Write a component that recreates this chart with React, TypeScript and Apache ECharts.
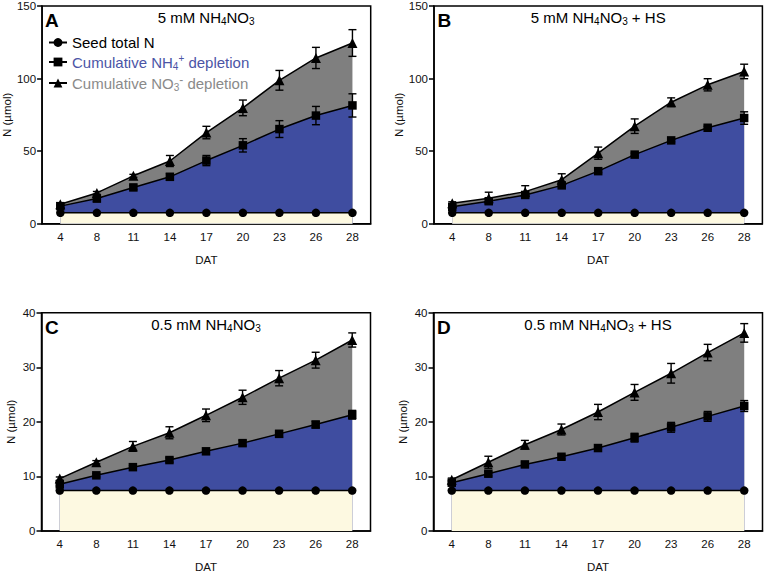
import React, { useEffect, useRef } from 'react';
import * as echarts from 'echarts';

// ---------- data ----------
const categories = ['4', '8', '11', '14', '17', '20', '23', '26', '28'];

const seedA = [7.5, 7.5, 7.5, 7.5, 7.5, 7.5, 7.5, 7.5, 7.5];
const nh4A = [12.1, 17.3, 25.0, 32.3, 43.5, 54.0, 65.2, 74.5, 81.5];
const nh4AErr = [1.0, 2.0, 1.5, 2.2, 3.5, 4.6, 5.8, 6.3, 8.0];
const no3A = [13.4, 21.2, 33.0, 43.2, 62.8, 79.8, 98.8, 114.2, 124.5];
const no3AErr = [1.0, 1.0, 1.0, 3.8, 4.3, 5.4, 6.8, 7.3, 9.2];

const seedB = [7.5, 7.5, 7.5, 7.5, 7.5, 7.5, 7.5, 7.5, 7.5];
const nh4B = [11.6, 15.5, 19.8, 26.4, 36.2, 47.6, 57.4, 66.1, 72.8];
const nh4BErr = [1.0, 1.0, 1.0, 1.0, 1.0, 1.0, 1.0, 1.0, 4.3];
const no3B = [14.1, 17.6, 22.1, 30.3, 48.6, 67.2, 83.7, 95.7, 104.9];
const no3BErr = [1.0, 4.1, 4.1, 4.1, 4.2, 5.0, 3.0, 4.2, 5.0];

const seedC = [7.4, 7.4, 7.4, 7.4, 7.4, 7.4, 7.4, 7.4, 7.4];
const nh4C = [8.55, 10.2, 11.7, 13.0, 14.6, 16.1, 17.8, 19.5, 21.3];
const nh4CErr = [0.3, 0.3, 0.3, 0.4, 0.5, 0.5, 0.6, 0.6, 0.8];
const no3C = [9.6, 12.6, 15.5, 18.0, 21.2, 24.5, 28.0, 31.3, 35.0];
const no3CErr = [0.3, 0.3, 0.9, 1.1, 1.15, 1.3, 1.4, 1.45, 1.3];

const seedD = [7.4, 7.4, 7.4, 7.4, 7.4, 7.4, 7.4, 7.4, 7.4];
const nh4D = [8.85, 10.5, 12.2, 13.6, 15.2, 17.1, 19.0, 21.0, 22.9];
const nh4DErr = [0.4, 0.4, 0.4, 0.4, 0.6, 0.8, 0.9, 0.9, 1.0];
const no3D = [9.4, 12.6, 15.8, 18.6, 21.8, 25.4, 28.9, 32.7, 36.3];
const no3DErr = [0.3, 1.1, 0.8, 1.0, 1.4, 1.45, 1.8, 1.5, 1.7];

const SEED_NAME = 'Seed total N';
const NH4_NAME = 'Cumulative NH4+ depletion';
const NO3_NAME = 'Cumulative NO3- depletion';

// ---------- styles ----------
const FONT = "'Liberation Sans', Arial, Helvetica, sans-serif";
const BLUE_FILL = '#3F4DA0';
const GREY_FILL = '#7F7F7F';
const CREAM_FILL = '#FDF9E1';
const BLUE_TEXT = '#4B55A6';
const GREY_TEXT = '#8A8A8A';

const panels = [
  {
    grid: { left: 41.5, top: 5.3, width: 329.2, height: 218.4 },
    max: 150, interval: 50, letter: 'A',
    title: '{n|5 mM NH}{s|4}{n|NO}{s|3}',
    seed: seedA, nh4: nh4A, nh4Err: nh4AErr, no3: no3A, no3Err: no3AErr,
  },
  {
    grid: { left: 434, top: 5.3, width: 328.4, height: 218.4 },
    max: 150, interval: 50, letter: 'B',
    title: '{n|5 mM NH}{s|4}{n|NO}{s|3}{n| + HS}',
    seed: seedB, nh4: nh4B, nh4Err: nh4BErr, no3: no3B, no3Err: no3BErr,
  },
  {
    grid: { left: 41.5, top: 312.7, width: 329, height: 219 },
    max: 40, interval: 10, letter: 'C',
    title: '{n|0.5 mM NH}{s|4}{n|NO}{s|3}',
    seed: seedC, nh4: nh4C, nh4Err: nh4CErr, no3: no3C, no3Err: no3CErr,
  },
  {
    grid: { left: 433.5, top: 312.7, width: 329, height: 219 },
    max: 40, interval: 10, letter: 'D',
    title: '{n|0.5 mM NH}{s|4}{n|NO}{s|3}{n| + HS}',
    seed: seedD, nh4: nh4D, nh4Err: nh4DErr, no3: no3D, no3Err: no3DErr,
  },
];

const titleRich = {
  n: { fontSize: 15, lineHeight: 18, fill: '#000', fontFamily: FONT },
  s: { fontSize: 10, lineHeight: 10, verticalAlign: 'bottom', fill: '#000', fontFamily: FONT },
};

const legendLabels: Record<string, string> = {
  [SEED_NAME]: '{k|Seed total N}',
  [NH4_NAME]: '{b|Cumulative NH}{bs|4}{bp|+}{b| depletion}',
  [NO3_NAME]: '{g|Cumulative NO}{gs|3}{gp|-}{g| depletion}',
};

const errRender = (params: any, api: any) => {
  const x = api.value(0);
  const lo = api.coord([x, api.value(1)]);
  const hi = api.coord([x, api.value(2)]);
  const w = 4;
  const st = { stroke: '#000', lineWidth: 1.4 };
  return {
    type: 'group',
    children: [
      { type: 'line', shape: { x1: lo[0], y1: lo[1], x2: hi[0], y2: hi[1] }, style: st },
      { type: 'line', shape: { x1: lo[0] - w, y1: lo[1], x2: lo[0] + w, y2: lo[1] }, style: st },
      { type: 'line', shape: { x1: hi[0] - w, y1: hi[1], x2: hi[0] + w, y2: hi[1] }, style: st },
    ],
  };
};

function buildOption() {
  const grids: any[] = [];
  const xAxes: any[] = [];
  const yAxes: any[] = [];
  const series: any[] = [];
  const graphics: any[] = [];

  panels.forEach((p, i) => {
    grids.push({
      ...p.grid,
      show: true,
      borderColor: '#000',
      borderWidth: 1.5,
      backgroundColor: 'transparent',
      containLabel: false,
    });
    xAxes.push({
      type: 'category',
      gridIndex: i,
      data: categories,
      boundaryGap: true,
      axisLine: { lineStyle: { color: '#000', width: 1.5 } },
      axisTick: { alignWithLabel: true, length: 5, lineStyle: { color: '#000', width: 1.5 } },
      axisLabel: { color: '#111', fontSize: 11.5, fontFamily: FONT, margin: 7 },
      splitLine: { show: false },
      name: 'DAT',
      nameLocation: 'middle',
      nameGap: 30,
      nameTextStyle: { color: '#111', fontSize: 11.5, fontFamily: FONT },
    });
    yAxes.push({
      type: 'value',
      gridIndex: i,
      min: 0,
      max: p.max,
      interval: p.interval,
      axisLine: { show: true, lineStyle: { color: '#000', width: 1.5 } },
      axisTick: { show: true, length: 5, lineStyle: { color: '#000', width: 1.5 } },
      axisLabel: { color: '#111', fontSize: 11.5, fontFamily: FONT, margin: 6 },
      splitLine: { show: false },
      name: 'N (\u00b5mol)',
      nameLocation: 'middle',
      nameGap: 25,
      nameTextStyle: { color: '#111', fontSize: 11.5, fontFamily: FONT },
    });

    const common = {
      type: 'line',
      xAxisIndex: i,
      yAxisIndex: i,
      itemStyle: { color: '#000' },
      lineStyle: { color: '#000', width: 1.5 },
      z: 2,
      silent: true,
    };
    series.push({
      ...common,
      name: NO3_NAME,
      data: p.no3,
      symbol: 'triangle',
      symbolSize: 10,
      areaStyle: { color: GREY_FILL, opacity: 1, origin: 'start' },
    });
    series.push({
      ...common,
      name: NH4_NAME,
      data: p.nh4,
      symbol: 'rect',
      symbolSize: 8.5,
      areaStyle: { color: BLUE_FILL, opacity: 1, origin: 'start' },
    });
    series.push({
      ...common,
      name: SEED_NAME,
      data: p.seed,
      symbol: 'circle',
      symbolSize: 8.5,
      areaStyle: { color: CREAM_FILL, opacity: 1, origin: 'start' },
    });
    series.push({
      type: 'custom',
      xAxisIndex: i,
      yAxisIndex: i,
      z: 4,
      silent: true,
      data: p.no3.map((v, j) => [j, v - p.no3Err[j], v + p.no3Err[j]]),
      encode: { x: 0, y: [1, 2] },
      renderItem: errRender,
    });
    series.push({
      type: 'custom',
      xAxisIndex: i,
      yAxisIndex: i,
      z: 4,
      silent: true,
      data: p.nh4.map((v, j) => [j, v - p.nh4Err[j], v + p.nh4Err[j]]),
      encode: { x: 0, y: [1, 2] },
      renderItem: errRender,
    });

    graphics.push({
      type: 'text',
      x: p.grid.left + p.grid.width / 2,
      y: p.grid.top + 12.2,
      z: 10,
      style: {
        text: p.title,
        rich: titleRich,
        fontSize: 15,
        fontFamily: FONT,
        fill: '#000',
        align: 'center',
        verticalAlign: 'middle',
      },
    });
    graphics.push({
      type: 'text',
      x: p.grid.left + 3.5,
      y: p.grid.top + 14.7,
      z: 10,
      style: {
        text: p.letter,
        fontSize: 19,
        fontWeight: 'bold',
        fontFamily: FONT,
        fill: '#000',
        align: 'left',
        verticalAlign: 'middle',
      },
    });
  });

  return {
    animation: false,
    backgroundColor: '#fff',
    grid: grids,
    xAxis: xAxes,
    yAxis: yAxes,
    series,
    graphic: graphics,
    legend: {
      show: true,
      orient: 'vertical',
      left: 48,
      top: 35,
      padding: 0,
      itemWidth: 18,
      itemHeight: 11,
      itemGap: 3,
      selectedMode: false,
      data: [SEED_NAME, NH4_NAME, NO3_NAME],
      formatter: (name: string) => legendLabels[name] || name,
      textStyle: {
        fontFamily: FONT,
        fontSize: 15,
        rich: {
          k: { color: '#000', fontSize: 15, lineHeight: 18, fontFamily: FONT },
          b: { color: BLUE_TEXT, fontSize: 15, lineHeight: 18, fontFamily: FONT },
          bs: { color: BLUE_TEXT, fontSize: 10, lineHeight: 10, verticalAlign: 'bottom', fontFamily: FONT },
          bp: { color: BLUE_TEXT, fontSize: 10, lineHeight: 10, verticalAlign: 'top', fontFamily: FONT },
          g: { color: GREY_TEXT, fontSize: 15, lineHeight: 18, fontFamily: FONT },
          gs: { color: GREY_TEXT, fontSize: 10, lineHeight: 10, verticalAlign: 'bottom', fontFamily: FONT },
          gp: { color: GREY_TEXT, fontSize: 12, lineHeight: 10, verticalAlign: 'top', fontFamily: FONT },
        },
      },
    },
  };
}

export default function App() {
  const ref = useRef<HTMLDivElement>(null);
  useEffect(() => {
    if (!ref.current) return;
    const chart = echarts.init(ref.current, undefined, { renderer: 'svg' });
    chart.setOption(buildOption() as any);
    return () => {
      chart.dispose();
    };
  }, []);
  return (
    <div
      ref={ref}
      style={{ position: 'absolute', left: 0, top: 0, width: 765, height: 574 }}
    />
  );
}
